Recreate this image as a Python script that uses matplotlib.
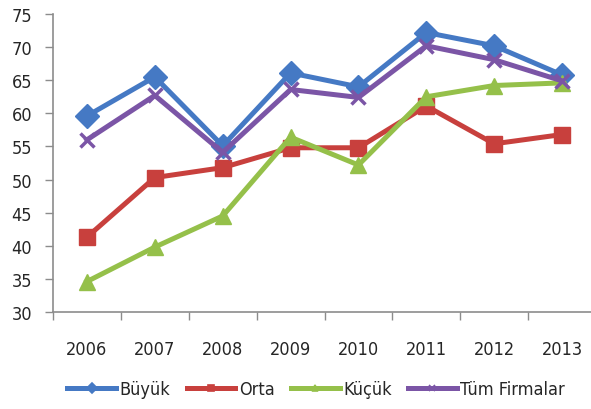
import matplotlib

matplotlib.use("Agg")

import matplotlib.pyplot as plt
from matplotlib.lines import Line2D

years = ["2006", "2007", "2008", "2009", "2010", "2011", "2012", "2013"]
buyuk = [59.6, 65.5, 55.1, 66.1, 64.0, 72.2, 70.2, 65.8]
orta = [41.3, 50.3, 51.8, 54.8, 54.8, 61.1, 55.4, 56.8]
kucuk = [34.6, 39.8, 44.5, 56.4, 52.2, 62.5, 64.2, 64.6]
tum = [56.0, 62.7, 54.1, 63.6, 62.4, 70.2, 68.1, 64.9]
y_ticks = [30, 35, 40, 45, 50, 55, 60, 65, 70, 75]

plt.rcParams["font.family"] = ["DejaVu Sans"]
font = dict(fontsize=13, fontstretch="condensed", color="#262626")

fig = plt.figure(figsize=(5.91, 4.10), dpi=100)
ax = fig.add_axes([53 / 591, 97 / 410, 543 / 591, 298 / 410])

x = list(range(len(years)))
series = [
    ("Büyük", buyuk, "#4579C4", "D", 12),
    ("Orta", orta, "#C8403D", "s", 11),
    ("Küçük", kucuk, "#95C04A", "^", 11),
    ("Tüm Firmalar", tum, "#7B55A6", "x", 10),
]
handles = []
for name, vals, color, marker, ms in series:
    ax.plot(x, vals, color=color, lw=3.6, marker=marker, ms=ms,
            mew=2.5 if marker == "x" else 1, mec=color, mfc=color,
            solid_joinstyle="round", clip_on=False)
    handles.append(Line2D([], [], color=color, lw=3.6, marker=marker,
                          ms=5, mew=1.2, mec=color, mfc=color))

ax.set_xlim(-0.5, len(years) - 0.5)
ax.set_ylim(30, 75)
ax.set_yticks(y_ticks)
ax.set_yticklabels([str(v) for v in y_ticks], **font)
ax.set_xticks([i + 0.5 for i in range(-1, len(years))])
ax.set_xticklabels([])
ax.set_xticks(x, minor=True)
ax.set_xticklabels(years, minor=True, **font)
ax.tick_params(axis="x", which="minor", length=0, pad=20)
ax.tick_params(axis="x", which="major", length=6, color="#8c8c8c", width=1)
ax.tick_params(axis="y", length=6, color="#8c8c8c", width=1, pad=9)

for side in ["top", "right"]:
    ax.spines[side].set_visible(False)
for side in ["left", "bottom"]:
    ax.spines[side].set_color("#8c8c8c")
    ax.spines[side].set_linewidth(1.2)

fig.legend(handles, [s[0] for s in series], loc="center", ncol=4,
           bbox_to_anchor=(0.535, 1 - 390 / 410), frameon=False,
           handlelength=2.7, handletextpad=0.2, columnspacing=0.9,
           prop=dict(size=13, stretch="condensed"), labelcolor="#262626")

fig.savefig("out.png", dpi=100)
